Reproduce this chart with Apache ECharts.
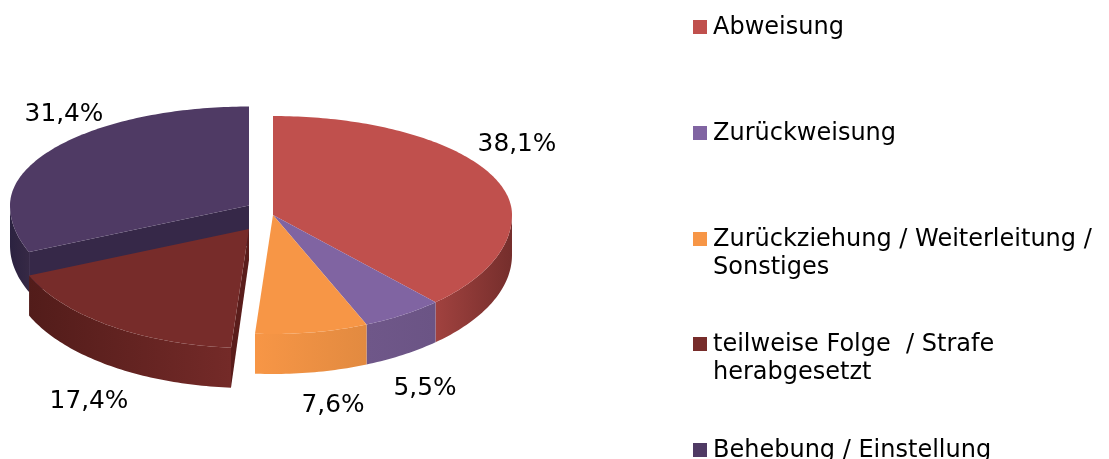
<!DOCTYPE html>
<html>
<head>
<meta charset="utf-8">
<title>Erledigungen</title>
<style>
    html, body { margin: 0; padding: 0; background: #fff; }
    #chart { width: 1109px; height: 459px; }
</style>
<script src="https://cdn.jsdelivr.net/npm/echarts@6/dist/echarts.min.js"></script>
</head>
<body>
<div id="chart"></div>
<script>
var categories = [
    'Abweisung',
    'Zurückweisung',
    'Zurückziehung / Weiterleitung /\nSonstiges',
    'teilweise Folge  / Strafe\nherabgesetzt',
    'Behebung / Einstellung'
];
var values = [38.1, 5.5, 7.6, 17.4, 31.4];
var colors = ['#C0504D', '#8064A2', '#F79646', '#772C2A', '#4F3A64'];

// 측면 그라데이션 (좌 -> 우)
var wallColors = [
    ['#A1423F', '#752E2C'],
    ['#6F5789', '#6B5485'],
    ['#F79646', '#E28A40'],
    ['#521C1A', '#742A28'],
    ['#2B2240', '#362945']
];
var innerColors = [null, null, null, '#5A1D1B', '#362848'];

// 슬라이스별 중심점 (분리된 조각 포함)
var apexX = [273, 273, 273, 249, 249];
var apexY = [215, 215, 215, 229, 205.5];
var innerDepth = [0, 0, 0, 31, 40];
var layerOrder = [3, 3, 3, 2, 1];

var labelX = [517, 425, 333, 89, 64];
var labelY = [145, 389, 406, 402, 115];

var legendY = [28, 134, 240, 345, 451];

var RX = 239, RY_BACK = 99, RY_FRONT = 119, DEPTH = 40;
var FONT = '"DejaVu Sans", Verdana, sans-serif';

var total = values.reduce(function(a, b) { return a + b; }, 0);

// 앞쪽과 뒤쪽 반지름이 다른 타원으로 원근감 표현
function project(i, deg) {
    var rad = deg * Math.PI / 180;
    var c = Math.cos(rad);
    return [
        apexX[i] + RX * Math.sin(rad),
        apexY[i] - (c > 0 ? RY_BACK : RY_FRONT) * c
    ];
}

function arcPoints(i, from, to) {
    var pts = [];
    for (var a = from; a < to; a += 1) {
        pts.push(project(i, a));
    }
    pts.push(project(i, to));
    return pts;
}

function renderSlice(params, api) {
    var i = params.dataIndex;
    var start = 0;
    for (var k = 0; k < i; k++) {
        start += values[k];
    }
    var a0 = start / total * 360;
    var a1 = (start + api.value(0)) / total * 360;
    var z = layerOrder[i] * 10;
    var children = [];

    // 바깥 측면: 앞쪽(90~270도)만 보인다
    var w0 = Math.max(a0, 90), w1 = Math.min(a1, 270);
    if (w1 > w0) {
        var upper = arcPoints(i, w0, w1);
        var lower = upper.map(function(p) { return [p[0], p[1] + DEPTH]; }).reverse();
        children.push({
            type: 'polygon',
            z2: z,
            shape: { points: upper.concat(lower) },
            style: {
                fill: new echarts.graphic.LinearGradient(0, 0, 1, 0, [
                    { offset: 0, color: wallColors[i][0] },
                    { offset: 1, color: wallColors[i][1] }
                ])
            }
        });
    }

    // 분리된 조각의 잘린 면
    if (innerColors[i]) {
        var p = project(i, a0);
        var ax = apexX[i], ay = apexY[i];
        children.push({
            type: 'polygon',
            z2: z + 1,
            shape: { points: [[ax, ay], p, [p[0], p[1] + DEPTH], [ax, ay + innerDepth[i]]] },
            style: { fill: innerColors[i] }
        });
    }

    // 윗면
    children.push({
        type: 'polygon',
        z2: z + 2,
        shape: { points: [[apexX[i], apexY[i]]].concat(arcPoints(i, a0, a1)) },
        style: { fill: colors[i] }
    });

    // 퍼센트 라벨
    children.push({
        type: 'text',
        z2: 100,
        style: {
            x: labelX[i],
            y: labelY[i],
            text: api.value(0).toFixed(1).replace('.', ',') + '%',
            fill: '#000',
            font: '24.8px ' + FONT,
            align: 'center',
            verticalAlign: 'middle'
        }
    });

    return { type: 'group', children: children };
}

var legendGraphic = [];
categories.forEach(function(name, i) {
    legendGraphic.push({
        type: 'rect',
        left: 693,
        top: legendY[i] - 8,
        shape: { width: 14, height: 14 },
        style: { fill: colors[i] }
    });
    legendGraphic.push({
        type: 'text',
        left: 713,
        top: legendY[i] - 14,
        style: {
            text: name,
            fill: '#000',
            font: '24px ' + FONT,
            lineHeight: 28
        }
    });
});

var chart = echarts.init(document.getElementById('chart'));

chart.setOption({
    animation: false,
    graphic: legendGraphic,
    series: [{
        type: 'custom',
        coordinateSystem: 'none',
        silent: true,
        encode: { value: 0 },
        data: values.map(function(v) { return [v]; }),
        renderItem: renderSlice
    }]
});
</script>
</body>
</html>
